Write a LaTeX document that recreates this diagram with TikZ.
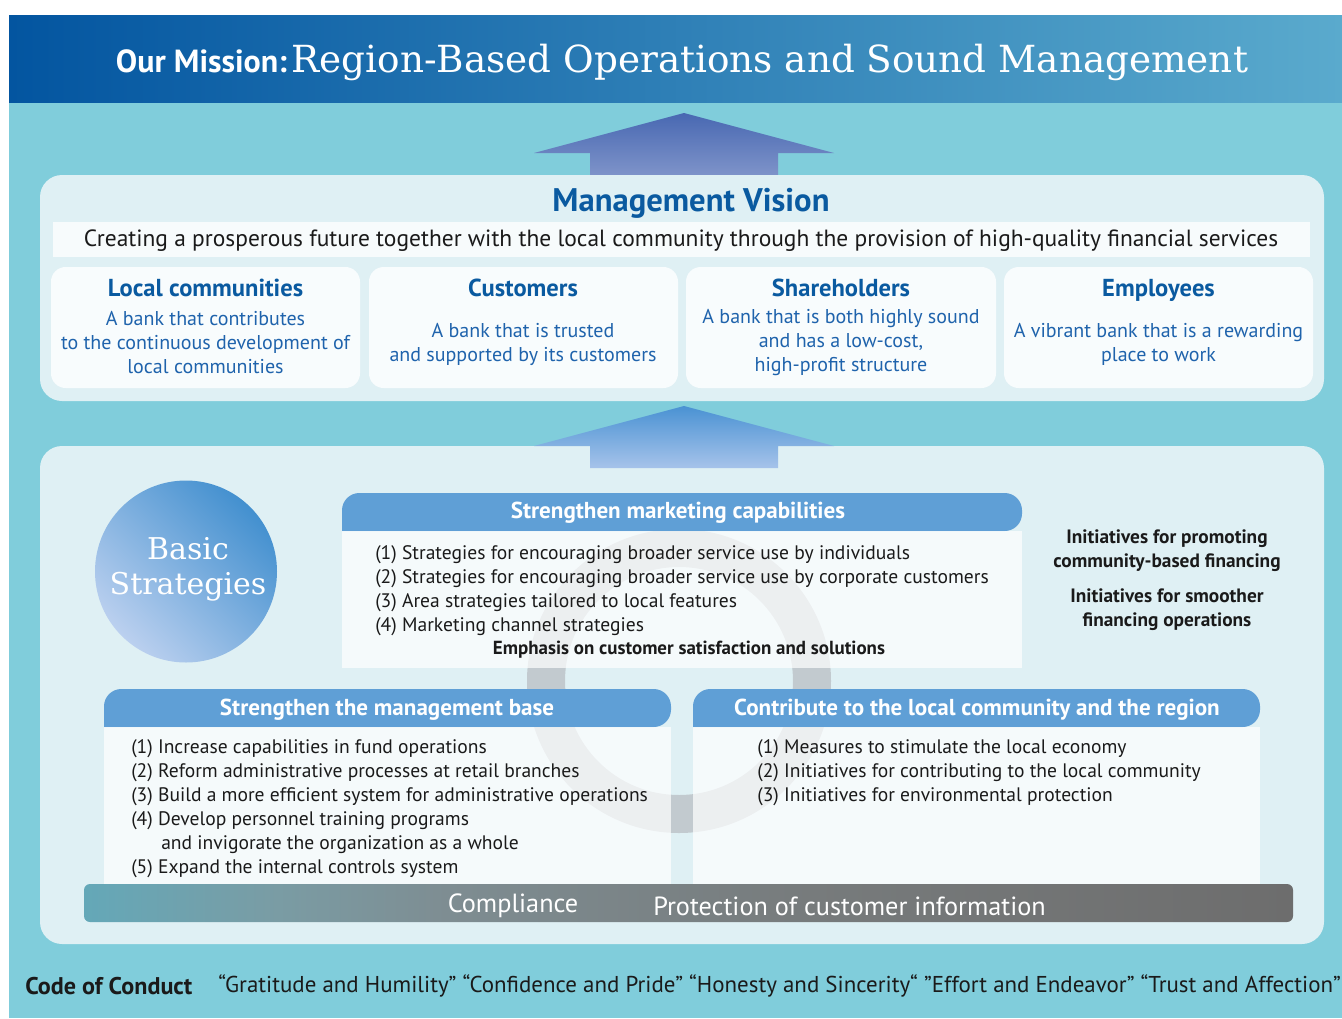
\documentclass[tikz,border=0pt]{standalone}
\usepackage{fontspec}
\setmainfont{PT Sans}
\newfontfamily\slabfont{DejaVu Serif}
\definecolor{tealbg}{HTML}{80CDDB}
\definecolor{hdrL}{HTML}{0355A0}
\definecolor{hdrM}{HTML}{1767AB}
\definecolor{hdrR}{HTML}{5AAACD}
\definecolor{panelbg}{HTML}{DFF0F4}
\definecolor{stripbg}{HTML}{F7FBFC}
\definecolor{cardbg}{HTML}{F8FCFD}
\definecolor{titleblue}{HTML}{0A5AA0}
\definecolor{cardtext}{HTML}{1F63AC}
\definecolor{arrAT}{HTML}{4868B2}
\definecolor{arrAB}{HTML}{7E93C9}
\definecolor{arrBT}{HTML}{4A92D3}
\definecolor{arrBB}{HTML}{A6C3EA}
\definecolor{boxhead}{HTML}{5F9FD6}
\definecolor{ringgray}{HTML}{C2CACF}
\definecolor{circD}{HTML}{4390CF}
\definecolor{circM}{HTML}{5898D3}
\definecolor{circL}{HTML}{BBD0EF}
\definecolor{compL}{HTML}{64A8B8}
\definecolor{compA}{HTML}{7A9CA4}
\definecolor{compM}{HTML}{7E8D92}
\definecolor{compN}{HTML}{777B7C}
\definecolor{compR}{HTML}{6D6D6D}
\definecolor{textdark}{HTML}{1A1A1A}
\pgfdeclarehorizontalshading{compshade}{100bp}{color(0bp)=(compL); color(25bp)=(compL); color(33bp)=(compA); color(40bp)=(compM); color(55bp)=(compN); color(75bp)=(compR); color(100bp)=(compR)}
\tikzset{
  cardtitle/.style={font=\bfseries\fontsize{18.4pt}{20pt}\selectfont, text=titleblue, inner sep=0, text height=0.72em, text depth=0.22em},
  cardbody/.style={font=\fontsize{15pt}{18pt}\selectfont, text=cardtext, align=center, inner sep=0},
  boxtitle/.style={font=\bfseries\fontsize{17.3pt}{18pt}\selectfont, text=white, inner sep=0},
  boxbody/.style={font=\fontsize{14.67pt}{18pt}\selectfont, text=textdark, align=left, inner sep=0},
  sidenote/.style={font=\bfseries\fontsize{14.5pt}{18pt}\selectfont, text=textdark, align=center, inner sep=0},
  boxbodyfill/.style={fill=white, fill opacity=0.7},
  barlabel/.style={font=\fontsize{19.7pt}{21pt}\selectfont, text=white, inner sep=0},
}
\begin{document}
\begin{tikzpicture}[x=0.75pt,y=-0.75pt]
\useasboundingbox (0,0) rectangle (1342,1018);
\fill[white] (0,0) rectangle (1342,1018);
\fill[tealbg] (9,15) rectangle (1342,1018);
% header band
\shade[left color=hdrL, middle color=hdrM, right color=hdrR] (9,15) rectangle (1342,102);
\node[anchor=base, text=white, inner sep=0] (mission) at (682,72)
  {{\bfseries\fontsize{24pt}{25pt}\selectfont Our Mission:} {\slabfont\fontsize{28pt}{30pt}\selectfont Region-Based Operations and Sound Management}};
% arrow 1
\shade[top color=arrAT, bottom color=arrAB] (684,113) -- (834,153) -- (778,153) -- (778,175) -- (590,175) -- (590,153) -- (534,153) -- cycle;
% vision panel
\fill[panelbg, rounded corners=16.5pt] (40,175) rectangle (1324,401);
\node[font=\bfseries\fontsize{24.5pt}{26pt}\selectfont, text=titleblue, inner sep=0] (mv) at (691,203) {Management Vision};
\fill[stripbg] (53,222) rectangle (1310,257);
\node[font=\fontsize{17.6pt}{18pt}\selectfont, text=textdark, inner sep=0] (vtext) at (681,241)
  {Creating a prosperous future together with the local community through the provision of high-quality financial services};
% cards
\fill[cardbg, rounded corners=11pt] (51,267) rectangle (360,388);
\fill[cardbg, rounded corners=11pt] (369,267) rectangle (678,388);
\fill[cardbg, rounded corners=11pt] (686,267) rectangle (996,388);
\fill[cardbg, rounded corners=11pt] (1004,267) rectangle (1313,388);
\node[cardtitle] (t1) at (205.5,293) {Local communities};
\node[cardbody] (b1) at (205.5,343) {A bank that contributes\\to the continuous development of\\local communities};
\node[cardtitle] (t2) at (523,293) {Customers};
\node[cardbody] (b2) at (523,344) {A bank that is trusted\\and supported by its customers};
\node[cardtitle] (t3) at (841,293) {Shareholders};
\node[cardbody] (b3) at (841,343) {A bank that is both highly sound\\and has a low-cost,\\high-profit structure};
\node[cardtitle] (t4) at (1158.5,293) {Employees};
\node[cardbody] (b4) at (1158.5,344) {A vibrant bank that is a rewarding\\place to work};
% lower panel
\fill[panelbg, rounded corners=16.5pt] (40,446) rectangle (1324,944);
% arrow 2
\shade[top color=arrBT, bottom color=arrBB] (684,406) -- (834,446) -- (778,446) -- (778,468) -- (590,468) -- (590,446) -- (534,446) -- cycle;
% basic strategies circle
\shade[top color=circD, middle color=circM, bottom color=circL, shading angle=-45] (186,571.5) circle[radius=91];
\node[font=\slabfont\fontsize{22.5pt}{26.25pt}\selectfont, text=white, align=center, inner sep=0] (basic) at (188,569) {Basic\\Strategies};
% ring
\fill[ringgray, even odd rule] (679,681) circle[radius=152] (679,681) circle[radius=114];
% marketing box
\fill[boxhead] (342,531) [rounded corners=13pt] |- (682,493) -| (1022,531) [sharp corners] -- cycle;
\fill[boxbodyfill] (342,531) rectangle (1022,668);
\node[boxtitle] (mkt) at (678,513) {Strengthen marketing capabilities};
\node[boxbody, anchor=west] (mktbody) at (375,591) {(1) Strategies for encouraging broader service use by individuals\\(2) Strategies for encouraging broader service use by corporate customers\\(3) Area strategies tailored to local features\\(4) Marketing channel strategies};
\node[boxbody, font=\bfseries\fontsize{14.2pt}{18pt}\selectfont] (emph) at (689,650) {Emphasis on customer satisfaction and solutions};
% side notes
\node[sidenote] (side1) at (1167,551) {Initiatives for promoting\\community-based financing};
\node[sidenote] (side2) at (1167,610) {Initiatives for smoother\\financing operations};
% management base box
\fill[boxhead] (104,727) [rounded corners=13pt] |- (388,689) -| (671,727) [sharp corners] -- cycle;
\fill[boxbodyfill] (104,727) rectangle (671,900);
\node[boxtitle] (mgmt) at (387,710) {Strengthen the management base};
\node[boxbody, anchor=west] (mgmtbody) at (131,809) {(1) Increase capabilities in fund operations\\(2) Reform administrative processes at retail branches\\(3) Build a more efficient system for administrative operations\\(4) Develop personnel training programs\\\hspace*{22.5pt}and invigorate the organization as a whole\\(5) Expand the internal controls system};
% contribute box
\fill[boxhead] (693,727) [rounded corners=13pt] |- (976,689) -| (1260,727) [sharp corners] -- cycle;
\fill[boxbodyfill] (693,727) rectangle (1260,900);
\node[boxtitle] (contrib) at (977,710) {Contribute to the local community and the region};
\node[boxbody, anchor=west] (contribbody) at (757,773) {(1) Measures to stimulate the local economy\\(2) Initiatives for contributing to the local community\\(3) Initiatives for environmental protection};
% compliance bar
\shade[shading=compshade, rounded corners=4.5pt] (84,884) rectangle (1293,922);
\node[barlabel] (compl) at (513,906) {Compliance};
\node[barlabel, anchor=west] (protect) at (653,906) {Protection of customer information};
% code of conduct
\node[font=\bfseries\fontsize{18.1pt}{19pt}\selectfont, text=textdark, inner sep=0, anchor=west] (coc) at (25,986) {Code of Conduct};
\node[font=\fontsize{17.2pt}{18pt}\selectfont, text=textdark, inner sep=0, anchor=west] (cocq) at (218,986) {“Gratitude and Humility” “Confidence and Pride” “Honesty and Sincerity“ ”Effort and Endeavor” “Trust and Affection”};
\end{tikzpicture}
\end{document}
